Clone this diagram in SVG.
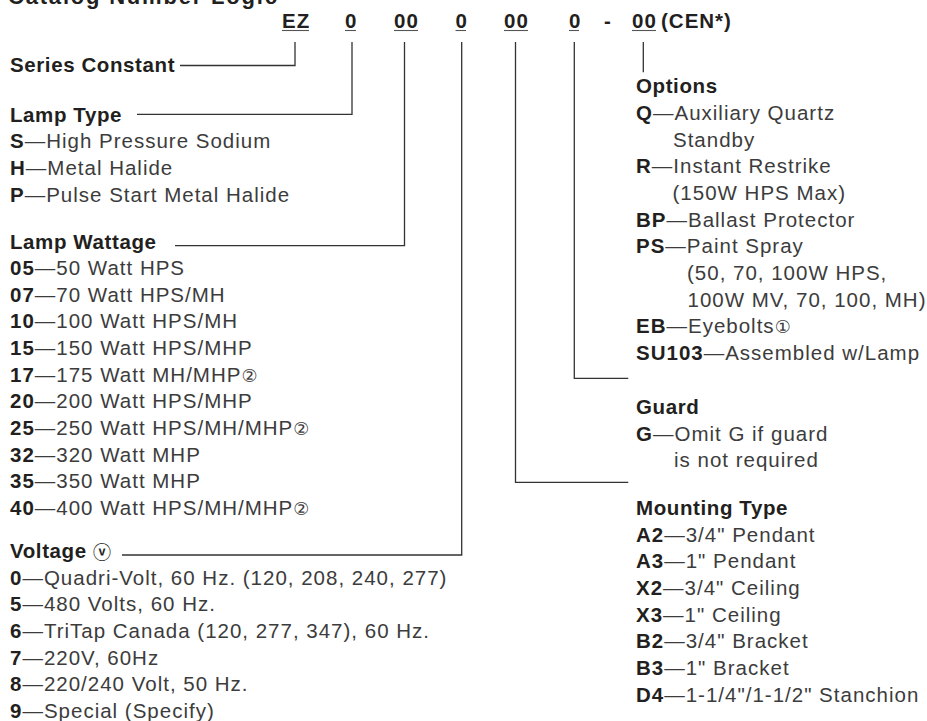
<svg xmlns="http://www.w3.org/2000/svg" width="927" height="721" viewBox="0 0 927 721">
  <style>
    text { font-family: "Liberation Sans", Arial, Helvetica, sans-serif; }
    .title { font-size: 22px; font-weight: bold; letter-spacing: 1.8px; fill: #231f20; }
    .code { font-size: 20.5px; font-weight: bold; letter-spacing: 1px; fill: #231f20; }
    .h { font-size: 20.5px; font-weight: bold; letter-spacing: 0.6px; fill: #231f20; }
    .t { font-size: 20.5px; letter-spacing: 1px; fill: #3c3c3c; }
    .b { font-weight: bold; fill: #231f20; }
    .circ { font-family: "DejaVu Sans", "Noto Sans CJK JP", sans-serif; font-size: 18px; letter-spacing: 0; }
    .ul { stroke: #555; stroke-width: 1.1; }
    .conn path { fill: none; stroke: #333; stroke-width: 1.3; }
  </style>

  <!-- heading -->
  <g id="title">
    <text class="title" x="8" y="4">Catalog Number Logic</text>
  </g>

  <!-- catalog number template -->
  <g id="code">
    <text class="code" x="282" y="28">EZ</text>
    <text class="code" x="345" y="28">0</text>
    <text class="code" x="394" y="28">00</text>
    <text class="code" x="455.5" y="28">0</text>
    <text class="code" x="504" y="28">00</text>
    <text class="code" x="569" y="28">0</text>
    <text class="code" x="604" y="28">-</text>
    <text class="code" x="632" y="28">00</text>
    <text class="code" x="661" y="28">(CEN*)</text>
    <line class="ul" x1="282" y1="30.5" x2="309" y2="30.5"/>
    <line class="ul" x1="345" y1="30.5" x2="356" y2="30.5"/>
    <line class="ul" x1="394" y1="30.5" x2="418" y2="30.5"/>
    <line class="ul" x1="455.5" y1="30.5" x2="466" y2="30.5"/>
    <line class="ul" x1="504" y1="30.5" x2="528" y2="30.5"/>
    <line class="ul" x1="569" y1="30.5" x2="579" y2="30.5"/>
    <line class="ul" x1="632" y1="30.5" x2="656" y2="30.5"/>
  </g>

  <!-- leader lines from each code position -->
  <g id="connectors" class="conn">
    <path d="M295,42 V65.5 H180"/>
    <path d="M352,42 V114.3 H137"/>
    <path d="M404.5,42 V245.7 H175"/>
    <path d="M461.7,42 V555 H122"/>
    <path d="M515.5,42 V482.3 H628.3"/>
    <path d="M574.3,42 V378.3 H628.3"/>
    <path d="M643.3,42 V72.3"/>
  </g>

  <g id="series">
    <text class="h" x="10" y="72">Series Constant</text>
  </g>

  <g id="lamp-type">
    <text class="h" x="10" y="121.5">Lamp Type</text>
    <text class="t" x="10" y="148.3"><tspan class="b">S</tspan>—High Pressure Sodium</text>
    <text class="t" x="10" y="175"><tspan class="b">H</tspan>—Metal Halide</text>
    <text class="t" x="10" y="201.6"><tspan class="b">P</tspan>—Pulse Start Metal Halide</text>
  </g>

  <g id="lamp-wattage">
    <text class="h" x="10" y="249">Lamp Wattage</text>
    <text class="t" x="10" y="275"><tspan class="b">05</tspan>—50 Watt HPS</text>
    <text class="t" x="10" y="301.6"><tspan class="b">07</tspan>—70 Watt HPS/MH</text>
    <text class="t" x="10" y="328.3"><tspan class="b">10</tspan>—100 Watt HPS/MH</text>
    <text class="t" x="10" y="355"><tspan class="b">15</tspan>—150 Watt HPS/MHP</text>
    <text class="t" x="10" y="381.6"><tspan class="b">17</tspan>—175 Watt MH/MHP<tspan class="circ">②</tspan></text>
    <text class="t" x="10" y="408.2"><tspan class="b">20</tspan>—200 Watt HPS/MHP</text>
    <text class="t" x="10" y="434.9"><tspan class="b">25</tspan>—250 Watt HPS/MH/MHP<tspan class="circ">②</tspan></text>
    <text class="t" x="10" y="461.6"><tspan class="b">32</tspan>—320 Watt MHP</text>
    <text class="t" x="10" y="488.2"><tspan class="b">35</tspan>—350 Watt MHP</text>
    <text class="t" x="10" y="514.9"><tspan class="b">40</tspan>—400 Watt HPS/MH/MHP<tspan class="circ">②</tspan></text>
  </g>

  <g id="voltage">
    <text class="h" x="10" y="557.5">Voltage <tspan class="circ" font-size="20" dy="1.5">ⓥ</tspan></text>
    <text class="t" x="10" y="584.6"><tspan class="b">0</tspan>—Quadri-Volt, 60 Hz. (120, 208, 240, 277)</text>
    <text class="t" x="10" y="611.3"><tspan class="b">5</tspan>—480 Volts, 60 Hz.</text>
    <text class="t" x="10" y="637.9"><tspan class="b">6</tspan>—TriTap Canada (120, 277, 347), 60 Hz.</text>
    <text class="t" x="10" y="664.6"><tspan class="b">7</tspan>—220V, 60Hz</text>
    <text class="t" x="10" y="691.2"><tspan class="b">8</tspan>—220/240 Volt, 50 Hz.</text>
    <text class="t" x="10" y="717.9"><tspan class="b">9</tspan>—Special (Specify)</text>
  </g>

  <g id="options">
    <text class="h" x="636" y="93.3">Options</text>
    <text class="t" x="636" y="120"><tspan class="b">Q</tspan>—Auxiliary Quartz</text>
    <text class="t" x="673" y="146.7">Standby</text>
    <text class="t" x="636" y="173.3"><tspan class="b">R</tspan>—Instant Restrike</text>
    <text class="t" x="672.5" y="200">(150W HPS Max)</text>
    <text class="t" x="636" y="226.7"><tspan class="b">BP</tspan>—Ballast Protector</text>
    <text class="t" x="636" y="253.3"><tspan class="b">PS</tspan>—Paint Spray</text>
    <text class="t" x="687" y="280">(50, 70, 100W HPS,</text>
    <text class="t" x="687.5" y="306.7">100W MV, 70, 100, MH)</text>
    <text class="t" x="636" y="333.3"><tspan class="b">EB</tspan>—Eyebolts<tspan class="circ">①</tspan></text>
    <text class="t" x="636" y="360"><tspan class="b">SU103</tspan>—Assembled w/Lamp</text>
  </g>

  <g id="guard">
    <text class="h" x="636" y="414">Guard</text>
    <text class="t" x="636" y="440.7"><tspan class="b">G</tspan>—Omit G if guard</text>
    <text class="t" x="674" y="466.7">is not required</text>
  </g>

  <g id="mounting-type">
    <text class="h" x="636" y="515">Mounting Type</text>
    <text class="t" x="636" y="541.7"><tspan class="b">A2</tspan>—3/4" Pendant</text>
    <text class="t" x="636" y="568.3"><tspan class="b">A3</tspan>—1" Pendant</text>
    <text class="t" x="636" y="595"><tspan class="b">X2</tspan>—3/4" Ceiling</text>
    <text class="t" x="636" y="621.7"><tspan class="b">X3</tspan>—1" Ceiling</text>
    <text class="t" x="636" y="648.3"><tspan class="b">B2</tspan>—3/4" Bracket</text>
    <text class="t" x="636" y="675"><tspan class="b">B3</tspan>—1" Bracket</text>
    <text class="t" x="636" y="701.7"><tspan class="b">D4</tspan>—1-1/4"/1-1/2" Stanchion</text>
  </g>
</svg>
